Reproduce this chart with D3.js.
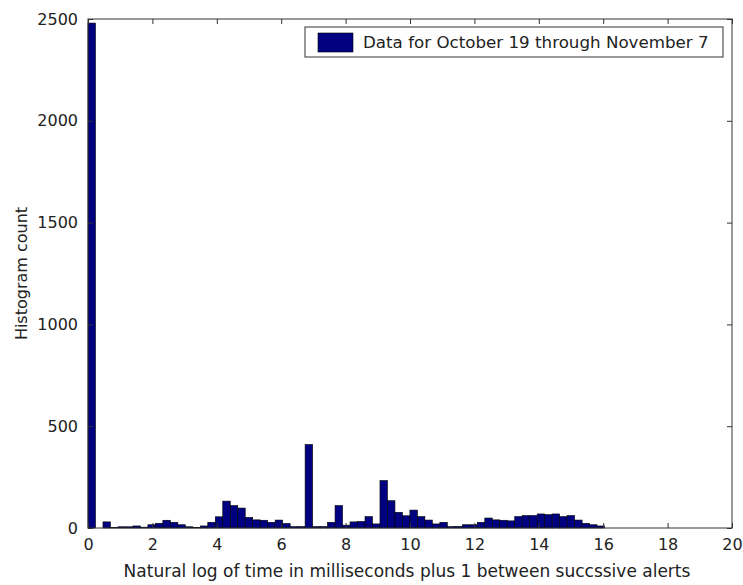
<!DOCTYPE html>
<html>
<head>
<meta charset="utf-8">
<script src="https://cdn.jsdelivr.net/npm/d3@7"></script>
<style>
  body { margin: 0; background: #fff; }
  svg { display: block; }
  text { font-family: "DejaVu Sans", sans-serif; fill: #222; }
</style>
</head>
<body>
<div id="chart"></div>
<script>
// histogram of ln(ms + 1) between successive alerts
var binWidth = 0.2325;
var counts = [2480, 0, 30, 2, 6, 6, 10, 4, 16, 23,
              38, 28, 16, 6, 3, 10, 28, 55, 132, 110,
              98, 52, 40, 38, 28, 39, 22, 7, 7, 410,
              7, 7, 28, 110, 14, 30, 32, 56, 20, 233,
              134, 77, 60, 88, 56, 39, 20, 28, 7, 8,
              16, 16, 28, 49, 40, 38, 35, 56, 61, 61,
              69, 66, 69, 56, 61, 39, 23, 16, 10];
var xTicks = [0, 2, 4, 6, 8, 10, 12, 14, 16, 18, 20];
var yTicks = [0, 500, 1000, 1500, 2000, 2500];
var legendLabel = "Data for October 19 through November 7";
var xTitle = "Natural log of time in milliseconds plus 1 between succssive alerts";
var yTitle = "Histogram count";

var width = 743, height = 585;
var margin = {top: 19, right: 11, bottom: 57, left: 88};
var barFill = "#000080";
var font = "'DejaVu Sans', sans-serif";

var svg = d3.select("#chart").append("svg")
  .attr("width", width).attr("height", height);

var x = d3.scaleLinear().domain([0, 20]).range([margin.left, width - margin.right]);
var y = d3.scaleLinear().domain([0, 2500]).range([height - margin.bottom, margin.top]);

// bars
svg.append("g").selectAll("rect")
  .data(counts)
  .enter()
  .append("rect")
  .attr("x", function(d, i){ return x(i * binWidth); })
  .attr("width", function(d, i){ return x((i + 1) * binWidth) - x(i * binWidth); })
  .attr("y", function(d){ return y(d); })
  .attr("height", function(d){ return y(0) - y(d); })
  .attr("fill", barFill)
  .attr("stroke", "#000")
  .attr("stroke-width", 0.6);

// axes, MATLAB style ticks pointing inward
var axisG = svg.append("g").attr("class", "axes");
function styleAxis(g, labels){
  g.select(".domain").remove();
  g.selectAll(".tick line").attr("stroke", "#333");
  if(!labels) g.selectAll(".tick text").remove();
  g.selectAll(".tick text")
   .attr("font-size", 16)
   .attr("font-family", font)
   .attr("fill", "#222");
}
axisG.append("g")
  .attr("transform", "translate(0," + y(0) + ")")
  .call(d3.axisBottom(x).tickValues(xTicks).tickFormat(d3.format("d"))
          .tickSizeInner(-5).tickSizeOuter(0).tickPadding(11))
  .call(styleAxis, true);
axisG.append("g")
  .attr("transform", "translate(0," + y(2500) + ")")
  .call(d3.axisTop(x).tickValues(xTicks).tickSizeInner(-5).tickSizeOuter(0))
  .call(styleAxis, false);
axisG.append("g")
  .attr("transform", "translate(" + x(0) + ",0)")
  .call(d3.axisLeft(y).tickValues(yTicks).tickFormat(d3.format("d"))
          .tickSizeInner(-5).tickSizeOuter(0).tickPadding(10))
  .call(styleAxis, true);
axisG.append("g")
  .attr("transform", "translate(" + x(20) + ",0)")
  .call(d3.axisRight(y).tickValues(yTicks).tickSizeInner(-5).tickSizeOuter(0))
  .call(styleAxis, false);

// frame
svg.append("rect")
  .attr("x", x(0)).attr("y", y(2500))
  .attr("width", x(20) - x(0)).attr("height", y(0) - y(2500))
  .attr("fill", "none").attr("stroke", "#333").attr("stroke-width", 1);

// titles
svg.append("text")
  .attr("x", (x(0) + x(20)) / 2 - 3).attr("y", 577)
  .attr("text-anchor", "middle").attr("font-size", 17)
  .text(xTitle);
svg.append("text")
  .attr("transform", "translate(27," + (y(0) + y(2500)) / 2 + ") rotate(-90)")
  .attr("text-anchor", "middle").attr("font-size", 16)
  .text(yTitle);

// legend
var legend = svg.append("g");
legend.append("rect")
  .attr("x", 305).attr("y", 27).attr("width", 418).attr("height", 30)
  .attr("fill", "#fff").attr("stroke", "#333").attr("stroke-width", 1);
legend.append("rect")
  .attr("x", 318).attr("y", 33).attr("width", 35).attr("height", 19)
  .attr("fill", barFill).attr("stroke", "#000").attr("stroke-width", 0.6);
legend.append("text")
  .attr("x", 363).attr("y", 48)
  .attr("font-size", 16.7)
  .text(legendLabel);
</script>
</body>
</html>
